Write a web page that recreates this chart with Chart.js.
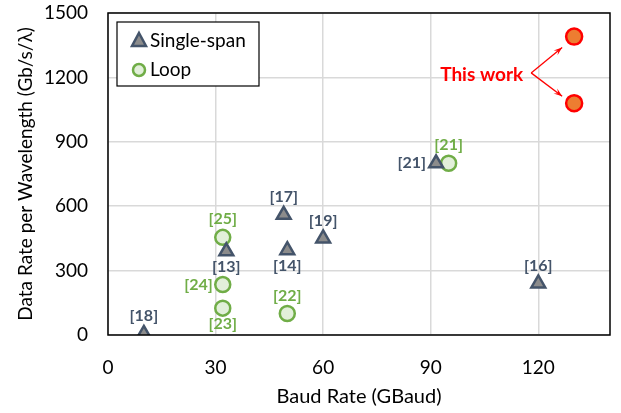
<!DOCTYPE html>
<html>
<head>
<meta charset="utf-8">
<script src="https://cdn.jsdelivr.net/npm/chart.js@4.4.1/dist/chart.umd.min.js"></script>
<style>
  html, body { margin: 0; padding: 0; background: #fff; }
  #wrap { width: 621px; height: 413px; }
</style>
</head>
<body>
<div id="wrap"><canvas id="myChart" width="621" height="413"></canvas></div>
<script>
// データ
var xTicks = [0, 30, 60, 90, 120];
var yTicks = [0, 300, 600, 900, 1200, 1500];

var singleBaud = [10, 33, 49, 50, 60, 91.5, 120];
var singleRate = [5, 390, 560, 395, 450, 800, 240];
var singleRefs = ['[18]', '[13]', '[17]', '[14]', '[19]', '[21]', '[16]'];

var loopBaud = [32, 32, 32, 50, 95];
var loopRate = [455, 235, 125, 100, 800];
var loopRefs = ['[25]', '[24]', '[23]', '[22]', '[21]'];

var workBaud = [130, 130];
var workRate = [1390, 1080];

// label placement (style only)
var singleSide = ['above', 'below', 'above', 'below', 'above', 'left', 'above'];
var loopSide = ['above', 'left', 'below', 'above', 'above'];

var FONT = 'Lato, "Open Sans", sans-serif';
var SLATE = '#44546a';
var GREEN = '#70ad47';

function pts(xs, ys) {
  return xs.map(function (x, i) { return { x: x, y: ys[i] }; });
}

// ラベルと矢印
var annotate = {
  id: 'annotate',
  afterDatasetsDraw: function (chart) {
    var ctx = chart.ctx;
    var xs = chart.scales.x, ys = chart.scales.y;
    var a = chart.chartArea;

    function labels(bx, br, refs, side, color) {
      ctx.save();
      ctx.font = 'bold 16px ' + FONT;
      ctx.fillStyle = color;
      ctx.textBaseline = 'middle';
      for (var i = 0; i < bx.length; i++) {
        var px = xs.getPixelForValue(bx[i]);
        var py = ys.getPixelForValue(br[i]);
        if (side[i] === 'above') { ctx.textAlign = 'center'; ctx.fillText(refs[i], px, py - 18); }
        else if (side[i] === 'below') { ctx.textAlign = 'center'; ctx.fillText(refs[i], px, py + 16); }
        else { ctx.textAlign = 'right'; ctx.fillText(refs[i], px - 10, py); }
      }
      ctx.restore();
    }
    labels(singleBaud, singleRate, singleRefs, singleSide, SLATE);
    labels(loopBaud, loopRate, loopRefs, loopSide, GREEN);

    // This work
    var wx = xs.getPixelForValue(workBaud[0]);
    var wy1 = ys.getPixelForValue(workRate[0]);
    var wy2 = ys.getPixelForValue(workRate[1]);
    var ox = wx - 43, oy = (wy1 + wy2) / 2 + 3;
    ctx.save();
    ctx.font = 'bold 19px ' + FONT;
    ctx.fillStyle = '#ff0000';
    ctx.textAlign = 'right';
    ctx.textBaseline = 'middle';
    ctx.fillText('This work', ox - 8, oy + 2);
    ctx.strokeStyle = '#ff0000';
    ctx.fillStyle = '#ff0000';
    ctx.lineWidth = 1.3;
    [[wx - 12, wy1 + 11], [wx - 12, wy2 - 7]].forEach(function (t) {
      ctx.beginPath();
      ctx.moveTo(ox, oy);
      ctx.lineTo(t[0], t[1]);
      ctx.stroke();
      var ang = Math.atan2(t[1] - oy, t[0] - ox);
      ctx.beginPath();
      ctx.moveTo(t[0], t[1]);
      ctx.lineTo(t[0] - 9 * Math.cos(ang - 0.35), t[1] - 9 * Math.sin(ang - 0.35));
      ctx.lineTo(t[0] - 5 * Math.cos(ang), t[1] - 5 * Math.sin(ang));
      ctx.lineTo(t[0] - 9 * Math.cos(ang + 0.35), t[1] - 9 * Math.sin(ang + 0.35));
      ctx.closePath();
      ctx.fill();
    });
    ctx.restore();

    // 枠線
    ctx.save();
    ctx.strokeStyle = '#000';
    ctx.lineWidth = 1.5;
    ctx.strokeRect(a.left, a.top, a.right - a.left, a.bottom - a.top);
    ctx.restore();

    // 凡例
    ctx.save();
    var lx = a.left + 9, ly = a.top + 9;
    ctx.fillStyle = '#fff';
    ctx.fillRect(lx, ly, 142, 64);
    ctx.strokeStyle = '#000';
    ctx.lineWidth = 1.2;
    ctx.strokeRect(lx, ly, 142, 64);
    ctx.beginPath();
    ctx.moveTo(lx + 22, ly + 11);
    ctx.lineTo(lx + 29, ly + 24);
    ctx.lineTo(lx + 15, ly + 24);
    ctx.closePath();
    ctx.fillStyle = '#8c8c8c';
    ctx.fill();
    ctx.strokeStyle = SLATE;
    ctx.lineWidth = 2.5;
    ctx.stroke();
    ctx.beginPath();
    ctx.arc(lx + 22, ly + 48, 6, 0, Math.PI * 2);
    ctx.fillStyle = '#e2efda';
    ctx.fill();
    ctx.strokeStyle = GREEN;
    ctx.lineWidth = 2.5;
    ctx.stroke();
    ctx.fillStyle = '#000';
    ctx.font = '19px ' + FONT;
    ctx.textBaseline = 'middle';
    ctx.textAlign = 'left';
    ctx.fillText('Single-span', lx + 33, ly + 19);
    ctx.fillText('Loop', lx + 33, ly + 48);
    ctx.restore();
  }
};

var ctx = document.getElementById('myChart').getContext('2d');
var myChart = new Chart(ctx, {
  type: 'scatter',
  data: {
    datasets: [{
      label: 'Single-span',
      data: pts(singleBaud, singleRate),
      pointStyle: 'triangle',
      pointRadius: 8,
      backgroundColor: '#8c8c8c',
      borderColor: SLATE,
      borderWidth: 2.5
    }, {
      label: 'Loop',
      data: pts(loopBaud, loopRate),
      pointStyle: 'circle',
      pointRadius: 7.5,
      backgroundColor: '#e2efda',
      borderColor: GREEN,
      borderWidth: 2.5
    }, {
      label: 'This work',
      data: pts(workBaud, workRate),
      pointStyle: 'circle',
      pointRadius: 8,
      backgroundColor: '#ed7d31',
      borderColor: '#ff0000',
      borderWidth: 2.5
    }]
  },
  plugins: [annotate],
  options: {
    responsive: false,
    animation: false,
    layout: { padding: { top: 0, right: 11, left: 0, bottom: 0 } },
    plugins: { legend: { display: false }, tooltip: { enabled: false } },
    scales: {
      x: {
        min: 0, max: 140,
        afterBuildTicks: function (s) { s.ticks = xTicks.map(function (v) { return { value: v }; }); },
        afterFit: function (s) { s.height = 78; s.paddingLeft = 0; s.paddingRight = 0; },
        grid: { color: '#d9d9d9', lineWidth: 1.5, drawTicks: false },
        border: { display: false },
        ticks: { color: '#000', font: { size: 19, family: FONT }, padding: 21, maxRotation: 0 },
        title: { display: true, text: 'Baud Rate (GBaud)', color: '#000', font: { size: 20, family: FONT }, padding: { top: 2 } }
      },
      y: {
        min: 0, max: 1500,
        afterBuildTicks: function (s) { s.ticks = yTicks.map(function (v) { return { value: v }; }); },
        afterFit: function (s) { s.width = 108; s.paddingTop = 13; s.paddingBottom = 0; },
        grid: { color: '#d9d9d9', lineWidth: 1.5, drawTicks: false },
        border: { display: false },
        ticks: { color: '#000', font: { size: 19, family: FONT }, padding: 20, callback: function (v) { return String(v); } },
        title: { display: true, text: 'Data Rate per Wavelength (Gb/s/λ)', color: '#000', font: { size: 19, family: FONT }, padding: { bottom: 0, top: 14 } }
      }
    }
  }
});
</script>
</body>
</html>
